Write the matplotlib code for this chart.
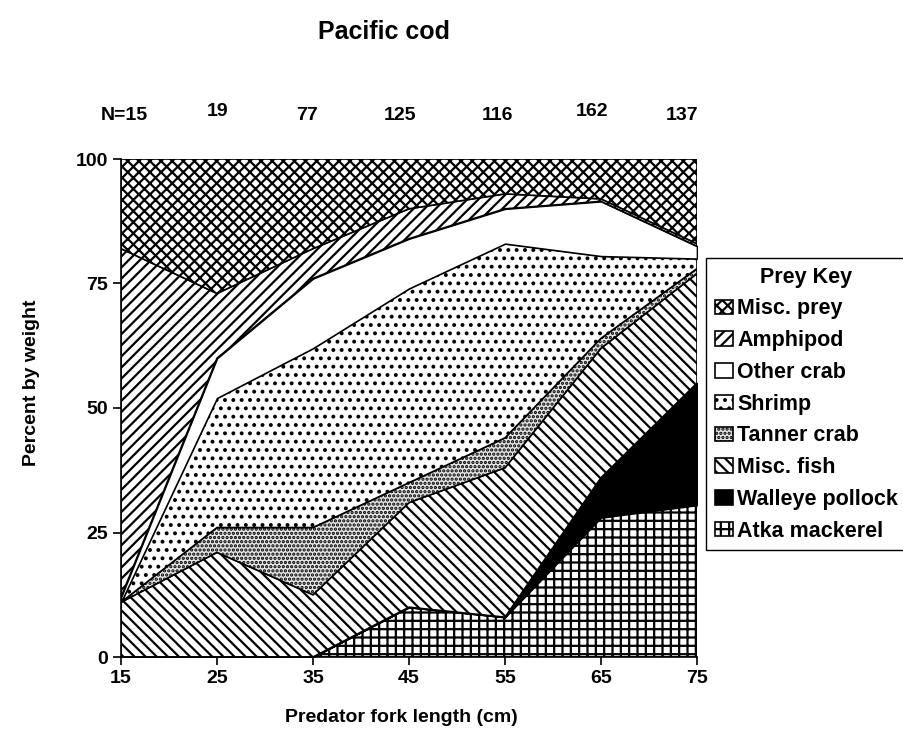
import matplotlib
matplotlib.use('Agg')
from matplotlib import pyplot as plt

plt.rcParams['font.family'] = ['Liberation Sans', 'DejaVu Sans']
plt.rcParams['font.weight'] = 'bold'
plt.rcParams['hatch.linewidth'] = 1.6

# predator fork length (cm)
length = [15, 25, 35, 45, 55, 65, 75]
n_fish = ['N=15', '19', '77', '125', '116', '162', '137']

# percent by weight, stacked from bottom to top
atka = [0, 0, 0, 10, 8, 28, 30.5]
pollock = [0, 0, 0, 0, 0, 8, 24.5]
misc_fish = [11, 21, 12.5, 21, 30, 26, 22]
tanner = [0, 5, 13.5, 4, 6, 2, 1]
shrimp = [0, 26, 36, 39, 39, 16.5, 2]
other_crab = [1, 8, 14, 10, 7, 11, 2.5]
amphipod = [70, 13, 6, 6, 3, 0.5, 0.5]
misc_prey = [18, 27, 18, 10, 7, 8, 17]

labels = ['Atka mackerel', 'Walleye pollock', 'Misc. fish', 'Tanner crab',
          'Shrimp', 'Other crab', 'Amphipod', 'Misc. prey']
colors = ['white', 'black', 'white', '#e6e6e6', 'white', 'white', 'white', 'white']
hatches = ['++', None, '\\\\\\', '....', '..', None, '///', 'xxx']

fig = plt.figure(figsize=(9.04, 7.32), dpi=100)
ax = fig.add_axes([121/904, 75/732, 576/904, 498/732])

polys = ax.stackplot(length, atka, pollock, misc_fish, tanner, shrimp,
                     other_crab, amphipod, misc_prey, labels=labels,
                     colors=colors, edgecolor='black', linewidth=1.2)
for p, h in zip(polys, hatches):
    if h:
        p.set_hatch(h)

ax.set_xlim(15, 75)
ax.set_ylim(0, 100)
ax.margins(0)
ax.set_xticks(length)
ax.set_yticks([0, 25, 50, 75, 100])
ax.tick_params(labelsize=14, length=6, width=1.2)
for s in ['top', 'right']:
    ax.spines[s].set_visible(False)
for s in ['left', 'bottom']:
    ax.spines[s].set_linewidth(1.2)

fig.text(401/904, 1 - 718/732, 'Predator fork length (cm)', ha='center',
         va='center', fontsize=14, fontweight='bold')
fig.text(32/904, 1 - 383/732, 'Percent by weight', ha='center', va='center',
         rotation=90, fontsize=14, fontweight='bold')
fig.text(384/904, 1 - 32/732, 'Pacific cod', ha='center', va='center',
         fontsize=18, fontweight='bold')

# sample sizes above each length class
n_dx = [0.3, 0.1, -0.6, -0.9, -0.8, -0.9, -1.6]
n_dy = [108.8, 109.5, 108.8, 108.8, 108.8, 109.5, 108.8]
for xv, n, dx, yv in zip(length, n_fish, n_dx, n_dy):
    ax.text(xv + dx, yv, n, ha='center', va='center', fontsize=14,
            fontweight='bold', clip_on=False)

handles, labs = ax.get_legend_handles_labels()
leg = fig.legend(handles[::-1], labs[::-1], title='Prey Key', loc='upper left',
                 bbox_to_anchor=(706/904, 1 - 258/732), fontsize=15.5,
                 title_fontproperties={'size': 15.5, 'weight': 'bold'},
                 handlelength=0.85, handleheight=0.65, handletextpad=0.2,
                 labelspacing=0.5, borderpad=0.4, borderaxespad=0,
                 fancybox=False, edgecolor='black', framealpha=1)
leg.get_frame().set_linewidth(1.0)

fig.savefig('out.png', dpi=100)
